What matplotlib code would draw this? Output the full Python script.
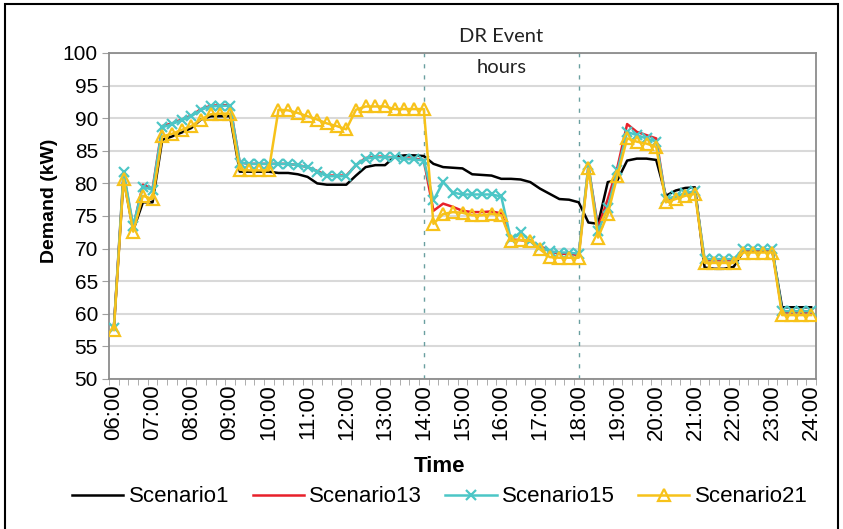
import matplotlib
matplotlib.use("Agg")
import matplotlib.pyplot as plt
from matplotlib.patches import Rectangle
from matplotlib.ticker import MultipleLocator, FixedLocator
import numpy as np

plt.rcParams['font.family'] = ['Liberation Sans', 'DejaVu Sans']

# %% Data: demand (kW) every 15 minutes, 06:00 to 24:00
hour_labels = ["06:00", "07:00", "08:00", "09:00", "10:00", "11:00", "12:00",
               "13:00", "14:00", "15:00", "16:00", "17:00", "18:00", "19:00",
               "20:00", "21:00", "22:00", "23:00", "24:00"]
slots_per_hour = 4
dr_start, dr_end = "14:00", "18:00"

scenario1 = [57.8, 80.8, 72.8, 77.1, 77.1, 86.7, 87.2, 87.8, 88.5, 89.8, 90.3, 90.3, 90.3,
             81.8, 81.8, 81.8, 81.8, 81.6, 81.6, 81.4, 81.0, 80.0, 79.8, 79.8, 79.8,
             81.2, 82.5, 82.8, 82.8, 84.1, 84.3, 84.3, 84.2, 83.0, 82.5, 82.4, 82.3,
             81.4, 81.3, 81.2, 80.7, 80.7, 80.6, 80.2, 79.2, 78.4, 77.6, 77.5, 77.1,
             74.0, 73.8, 80.2, 80.5, 83.5, 83.8, 83.8, 83.6, 78.1, 78.9, 79.3, 79.4,
             67.1, 66.9, 66.9, 67.2, 69.6, 69.6, 69.6, 69.6, 61.0, 61.0, 61.0, 61.0]
scenario13 = [57.8, 81.5, 73.3, 79.8, 79.2, 88.8, 89.2, 89.8, 90.4, 91.4, 91.9, 92.0, 92.0,
              83.2, 83.0, 83.0, 83.0, 83.0, 83.0, 82.8, 82.5, 81.9, 81.2, 81.2, 81.2,
              82.8, 83.9, 84.1, 84.1, 84.0, 83.8, 83.8, 83.6, 75.8, 76.9, 76.4, 75.8,
              75.6, 75.6, 75.7, 75.4, 71.4, 71.3, 71.1, 70.4, 69.6, 69.2, 69.2, 69.0,
              82.6, 73.2, 77.6, 82.5, 89.1, 87.9, 87.4, 86.9, 77.5, 77.9, 78.4, 78.8,
              68.2, 68.2, 68.2, 68.2, 69.7, 69.7, 69.7, 69.7, 60.2, 60.2, 60.2, 60.2]
scenario15 = [57.8, 81.8, 73.5, 79.5, 79.0, 88.6, 89.1, 89.7, 90.3, 91.3, 91.8, 91.9, 91.9,
              83.2, 83.0, 83.0, 83.0, 83.0, 83.0, 82.8, 82.5, 81.8, 81.1, 81.1, 81.1,
              82.8, 83.8, 84.0, 84.0, 84.0, 83.7, 83.7, 83.5, 77.4, 80.2, 78.6, 78.3,
              78.3, 78.3, 78.3, 78.0, 71.4, 72.5, 71.2, 70.2, 69.6, 69.4, 69.4, 69.2,
              82.8, 72.7, 76.3, 82.0, 87.9, 87.4, 86.9, 86.4, 77.6, 78.0, 78.5, 78.8,
              68.4, 68.4, 68.4, 68.4, 69.9, 69.9, 69.9, 69.9, 60.4, 60.4, 60.4, 60.4]
scenario21 = [57.5, 80.6, 72.6, 78.1, 77.6, 87.2, 87.6, 88.2, 88.8, 89.8, 90.6, 90.7, 90.7,
              82.1, 82.0, 82.0, 82.0, 91.3, 91.2, 90.8, 90.3, 89.8, 89.2, 88.8, 88.3,
              91.3, 91.8, 91.8, 91.8, 91.4, 91.4, 91.4, 91.4, 73.8, 75.3, 75.6, 75.5,
              75.1, 75.1, 75.3, 75.1, 71.2, 71.3, 71.2, 69.9, 68.7, 68.6, 68.6, 68.6,
              82.3, 71.7, 75.3, 81.2, 86.9, 86.4, 86.1, 85.6, 77.1, 77.6, 78.1, 78.4,
              67.8, 67.8, 67.8, 67.8, 69.4, 69.4, 69.4, 69.4, 59.8, 59.8, 59.8, 59.8]

x = np.arange(len(scenario1))

# %% Figure
fig = plt.figure(figsize=(8.43, 5.29), dpi=100)
W, H = 843, 529
ax = fig.add_axes([109/W, 1 - 379/H, (816 - 109)/W, (379 - 53)/H])

ax.plot(x, scenario1, color='black', lw=1.8, label='Scenario1', zorder=3)
ax.plot(x, scenario13, color='#e8202a', lw=1.8, label='Scenario13', zorder=4)
ax.plot(x, scenario15, color='#4cc6c6', lw=1.8, marker='x', ms=7, mew=1.6,
        label='Scenario15', zorder=5)
ax.plot(x, scenario21, color='#f7c21a', lw=1.8, marker='^', ms=8, mew=1.6,
        mfc='none', label='Scenario21', zorder=6)

# DR event window
x_start = hour_labels.index(dr_start) * slots_per_hour
x_end = hour_labels.index(dr_end) * slots_per_hour
for xv in (x_start, x_end):
    ax.axvline(xv, color='#6a9fa0', lw=1, ls=(0, (3, 5)), zorder=2)
ax.text((x_start + x_end) / 2, 102.5, 'DR Event', ha='center', va='center',
        fontsize=14.5, family=['Lato', 'DejaVu Sans'], color='#222222', clip_on=False)
ax.text((x_start + x_end) / 2, 97.8, 'hours', ha='center', va='center',
        fontsize=14.5, family=['Lato', 'DejaVu Sans'], color='#222222')

# axes
ax.set_xlim(-0.5, len(x) - 0.5)
ax.set_ylim(50, 100)
ax.yaxis.set_major_locator(MultipleLocator(5))
ax.grid(axis='y', color='#d9d9d9', lw=1.5, zorder=0)
ax.set_axisbelow(True)
ax.set_xticks(np.arange(0, len(x), slots_per_hour))
ax.set_xticklabels(hour_labels, rotation=90, fontsize=16)
ax.xaxis.set_minor_locator(FixedLocator(np.arange(-0.5, len(x), 1)))
ax.tick_params(axis='x', which='major', length=0, pad=4)
ax.tick_params(axis='x', which='minor', length=4, color='#a0a0a0', direction='out')
ax.tick_params(axis='y', labelsize=15, length=5, color='#a0a0a0', pad=3)
for s in ax.spines.values():
    s.set_color('#8c8c8c')
    s.set_linewidth(1.3)

fig.text(50/W, 1 - 201/H, 'Demand (kW)', rotation=90, ha='center', va='center',
         fontsize=14, fontweight='bold')
fig.text(440/W, 1 - 467/H, 'Time', ha='center', va='center',
         fontsize=16, fontweight='bold')

leg = fig.legend(loc='center', bbox_to_anchor=(440/W, 1 - 497/H), ncol=4, frameon=False,
                 fontsize=16, handlelength=2.3, handletextpad=0.25,
                 columnspacing=1.05)

# outer frame
fig.patches.append(Rectangle((5/W, -0.05), (838 - 5)/W, 1 - 4/H + 0.05,
                             transform=fig.transFigure, fill=False,
                             ec='black', lw=1.5))

fig.savefig('out.png', dpi=100)
